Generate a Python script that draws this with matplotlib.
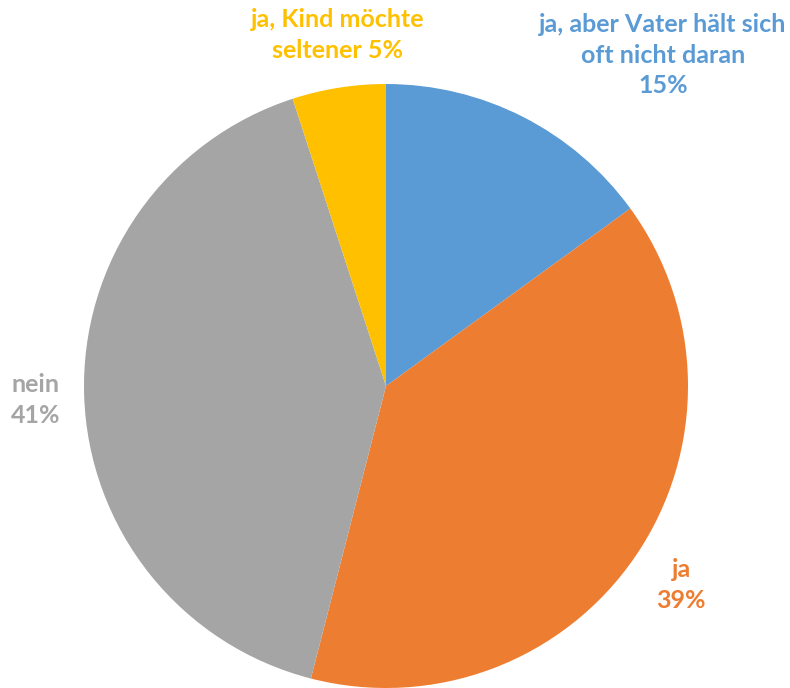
import matplotlib
matplotlib.use("Agg")
import matplotlib.pyplot as plt

categories = ["ja, aber Vater hält sich\noft nicht daran", "ja", "nein", "ja, Kind möchte\nseltener"]
values = [15, 39, 41, 5]
colors = ["#5B9BD5", "#ED7D31", "#A5A5A5", "#FFC000"]
label_texts = ["ja, aber Vater hält sich\noft nicht daran\n15%", "ja\n39%", "nein\n41%", "ja, Kind möchte\nseltener 5%"]
label_pos = [(0.917, 1.096), (0.977, -0.659), (-1.159, -0.046), (-0.159, 1.162)]

W, H = 790, 688
fig = plt.figure(figsize=(W / 100, H / 100), dpi=100)
cx, cy, r = 386, 386, 302
ax = fig.add_axes([(cx - r) / W, (H - cy - r) / H, 2 * r / W, 2 * r / H])
ax.pie(values, colors=colors, startangle=90, counterclock=False, radius=1,
       wedgeprops=dict(linewidth=0))
ax.set_xlim(-1, 1)
ax.set_ylim(-1, 1)
ax.set_aspect("equal")
ax.axis("off")

for txt, (x, y), c in zip(label_texts, label_pos, colors):
    ax.text(x, y, txt, ha="center", va="center", color=c, fontsize=18,
            fontweight="bold", family="Lato", linespacing=1.38, clip_on=False)

fig.savefig("out.png", dpi=100)
